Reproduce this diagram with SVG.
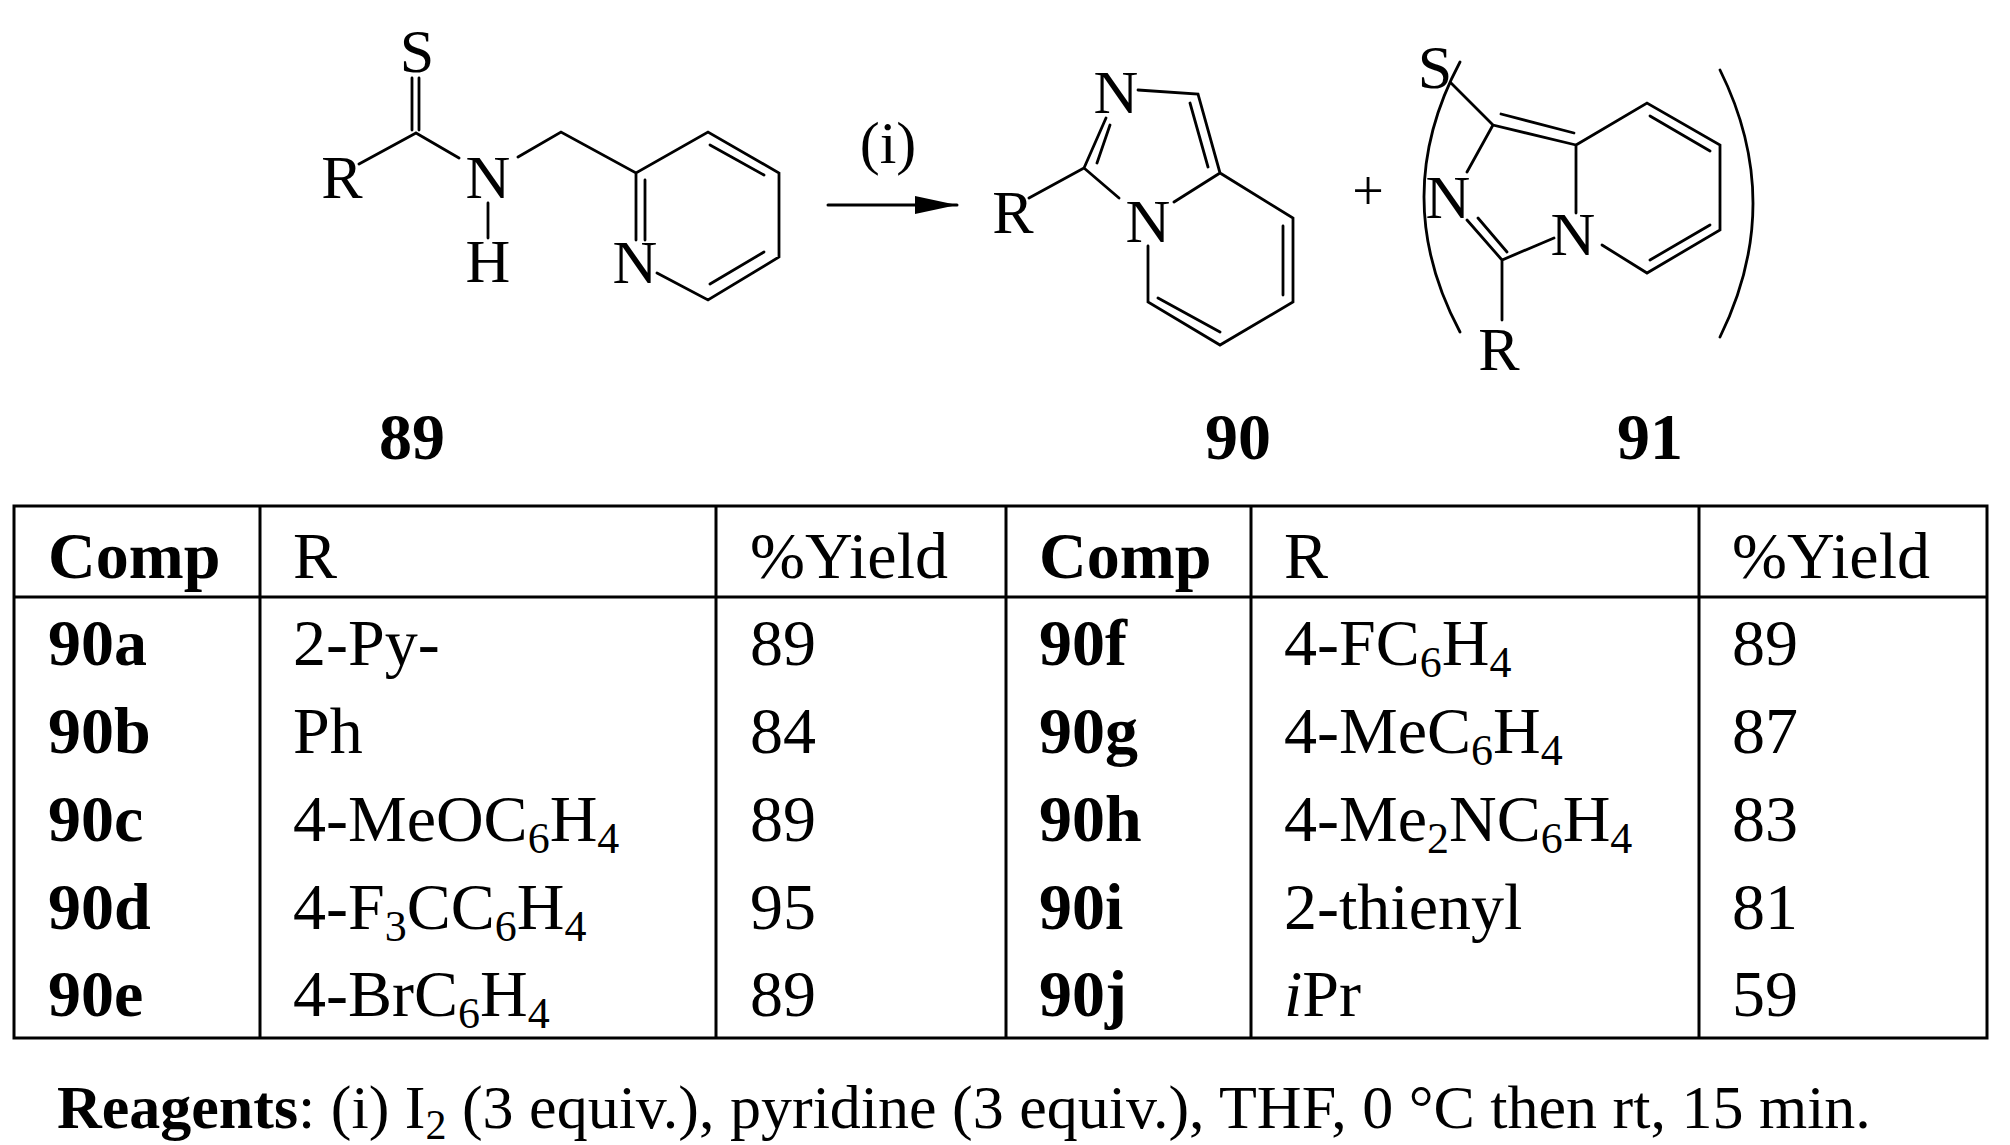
<svg xmlns="http://www.w3.org/2000/svg" width="2010" height="1145" viewBox="0 0 2010 1145">
<style>
.b{stroke:#000;stroke-width:2.8;fill:none;stroke-linecap:round}
.a{font-family:"Liberation Serif",serif;font-size:62px;text-anchor:middle;fill:#000}
.l{font-family:"Liberation Serif",serif;font-size:66px;font-weight:bold;text-anchor:middle;fill:#000}
.t{font-family:"Liberation Serif",serif;font-size:66px;fill:#000}
.tb{font-weight:bold}
.g{stroke:#000;stroke-width:3;fill:none}
</style>
<defs><marker id="ah" markerWidth="42" markerHeight="18" refX="42" refY="9" orient="auto" markerUnits="userSpaceOnUse" viewBox="0 0 42 18"><path d="M0,0L42,9L0,18z"/></marker></defs>
<rect width="2010" height="1145" fill="#fff"/>
<g id="c89">
<path class="b" d="M412,78V130M419,78V130M416,133L359,164M416,133L459,158M488,203V238M518,157L561,132L636,173L708,132L779,173V257L708,300L657,273M636,173V240M645,180V240M710,145L764,175M764,252L710,284"/>
<text class="a" x="417" y="72">S</text><text class="a" x="342" y="198">R</text><text class="a" x="488" y="198">N</text><text class="a" x="488" y="282">H</text><text class="a" x="635" y="283">N</text>
<text class="l" x="412" y="459">89</text>
</g>
<g id="arrow">
<path class="b" d="M828,205H957" marker-end="url(#ah)" style="stroke-width:3"/>
<text class="a" x="888" y="163" style="font-size:60px">(i)</text>
</g>
<g id="c90">
<path class="b" d="M1029,198L1084,168L1106,118M1097,163L1110,125M1138,90L1198,94L1220,173M1190,103L1208,167M1084,168L1119,198M1174,202L1220,173L1293,218V302L1220,345L1148,302V246M1283,226V295M1220,332L1158,298"/>
<text class="a" x="1116" y="113">N</text><text class="a" x="1148" y="242">N</text><text class="a" x="1013" y="233">R</text>
<text class="l" x="1238" y="459">90</text>
</g>
<text class="a" x="1368" y="210" style="font-size:56px">+</text>
<g id="c91">
<path class="b" d="M1460,62Q1388,197 1460,332M1720,70Q1786,203 1720,337M1451,83L1493,125L1576,145M1501,114L1574,133M1493,125L1467,172M1467,220L1502,260L1554,238M1478,218L1507,252M1576,145V213M1576,145L1647,103L1720,145V230L1647,273L1602,245M1650,116L1710,151M1710,225L1650,260M1502,260V320"/>
<text class="a" x="1435" y="88">S</text><text class="a" x="1448" y="218">N</text><text class="a" x="1573" y="255">N</text><text class="a" x="1499" y="370">R</text>
<text class="l" x="1650" y="459">91</text>
</g>
<g id="table">
<rect class="g" x="14" y="506" width="1973" height="532"/>
<path class="g" d="M14,597H1987M260,506V1038M716,506V1038M1006,506V1038M1251,506V1038M1699,506V1038"/>
<g class="t">
<text x="48" y="578" class="tb">Comp</text><text x="293" y="578">R</text><text x="750" y="578">%Yield</text>
<text x="1039" y="578" class="tb">Comp</text><text x="1284" y="578">R</text><text x="1732" y="578">%Yield</text>
<text x="48" y="665" class="tb">90a</text><text x="293" y="665">2-Py-</text><text x="750" y="665">89</text>
<text x="48" y="753" class="tb">90b</text><text x="293" y="753">Ph</text><text x="750" y="753">84</text>
<text x="48" y="841" class="tb">90c</text><text x="293" y="841">4-MeOC<tspan dy="12" font-size="44">6</tspan><tspan dy="-12">H</tspan><tspan dy="12" font-size="44">4</tspan></text><text x="750" y="841">89</text>
<text x="48" y="929" class="tb">90d</text><text x="293" y="929">4-F<tspan dy="12" font-size="44">3</tspan><tspan dy="-12">CC</tspan><tspan dy="12" font-size="44">6</tspan><tspan dy="-12">H</tspan><tspan dy="12" font-size="44">4</tspan></text><text x="750" y="929">95</text>
<text x="48" y="1016" class="tb">90e</text><text x="293" y="1016">4-BrC<tspan dy="12" font-size="44">6</tspan><tspan dy="-12">H</tspan><tspan dy="12" font-size="44">4</tspan></text><text x="750" y="1016">89</text>
<text x="1039" y="665" class="tb">90f</text><text x="1284" y="665">4-FC<tspan dy="12" font-size="44">6</tspan><tspan dy="-12">H</tspan><tspan dy="12" font-size="44">4</tspan></text><text x="1732" y="665">89</text>
<text x="1039" y="753" class="tb">90g</text><text x="1284" y="753">4-MeC<tspan dy="12" font-size="44">6</tspan><tspan dy="-12">H</tspan><tspan dy="12" font-size="44">4</tspan></text><text x="1732" y="753">87</text>
<text x="1039" y="841" class="tb">90h</text><text x="1284" y="841">4-Me<tspan dy="12" font-size="44">2</tspan><tspan dy="-12">NC</tspan><tspan dy="12" font-size="44">6</tspan><tspan dy="-12">H</tspan><tspan dy="12" font-size="44">4</tspan></text><text x="1732" y="841">83</text>
<text x="1039" y="929" class="tb">90i</text><text x="1284" y="929">2-thienyl</text><text x="1732" y="929">81</text>
<text x="1039" y="1016" class="tb">90j</text><text x="1284" y="1016"><tspan font-style="italic">i</tspan>Pr</text><text x="1732" y="1016">59</text>
</g>
</g>
<text class="t" x="57" y="1128" style="font-size:62px"><tspan font-weight="bold">Reagents</tspan>: (i) I<tspan dy="11" font-size="42">2</tspan><tspan dy="-11"> (3 equiv.), pyridine (3 equiv.), THF, 0 °C then rt, 15 min.</tspan></text>
</svg>
